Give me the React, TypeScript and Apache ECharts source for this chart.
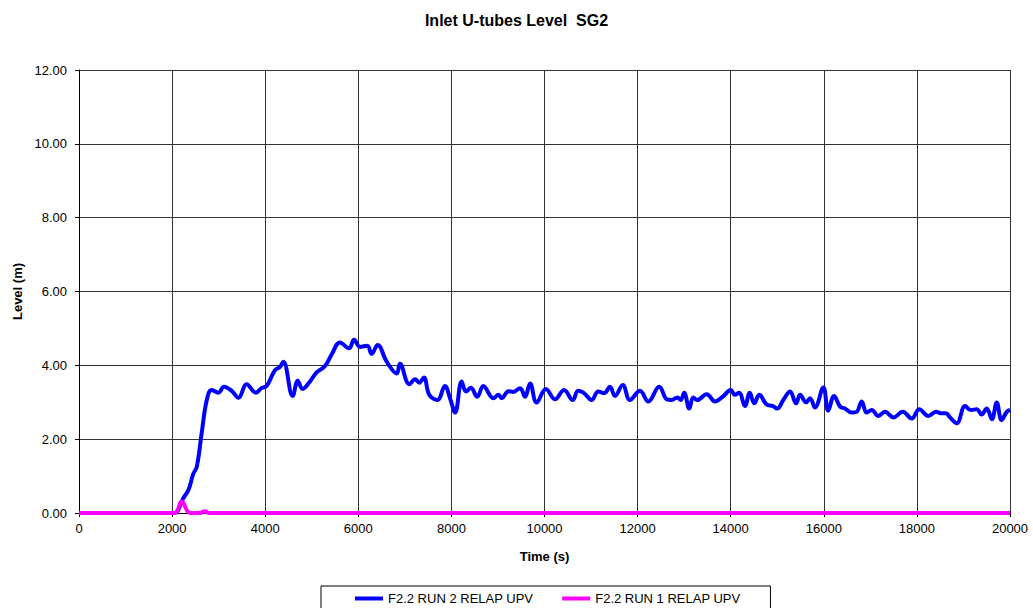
import React, { useEffect, useRef } from "react";
import * as echarts from "echarts";

const titleText = "Inlet U-tubes Level  SG2";
const xAxisName = "Time (s)";
const yAxisName = "Level (m)";
const seriesNames = ["F2.2 RUN 2 RELAP UPV", "F2.2 RUN 1 RELAP UPV"];

const run2Time = [
  0, 2000, 2060, 2240, 2350, 2455, 2530, 2635, 2745, 2850, 2995, 3115, 3280, 3425, 3600, 3800,
  3925, 4030, 4210, 4320, 4390, 4590, 4700, 4800, 4960, 5105, 5285, 5430, 5605, 5800, 5910,
  6035, 6195, 6285, 6415, 6610, 6825, 6895, 7095, 7220, 7310, 7410, 7525, 7700, 7860, 7970,
  8080, 8220, 8315, 8415, 8555, 8685, 8900, 9010, 9080, 9225, 9330, 9475, 9580, 9690, 9830,
  10030, 10225, 10420, 10605, 10725, 10850, 11010, 11155, 11285, 11405, 11515, 11680, 11835,
  12050, 12230, 12465, 12625, 12730, 12855, 12925, 13000, 13110, 13195, 13280, 13485, 13665,
  13830, 14000, 14090, 14180, 14305, 14410, 14505, 14615, 14770, 14900, 15000, 15130, 15275,
  15405, 15490, 15620, 15705, 15810, 15990, 16095, 16220, 16350, 16455, 16600, 16705, 16815,
  16920, 17030, 17170, 17315, 17495, 17695, 17890, 18050, 18245, 18410, 18535, 18625, 18710,
  18855, 19035, 19155, 19285, 19390, 19500, 19610, 19715, 19820, 19930, 20000,
];
const run2Level = [
  0, 0, 0, 0.4, 0.62, 1.06, 1.25, 2.16, 3.06, 3.33, 3.26, 3.42, 3.31, 3.12, 3.49, 3.26,
  3.39, 3.44, 3.87, 3.96, 4.1, 3.17, 3.58, 3.36, 3.56, 3.81, 3.98, 4.3, 4.62, 4.46, 4.69,
  4.5, 4.53, 4.31, 4.55, 4.1, 3.78, 4.04, 3.49, 3.62, 3.53, 3.67, 3.2, 3.06, 3.44, 3.11,
  2.72, 3.56, 3.29, 3.39, 3.15, 3.44, 3.11, 3.2, 3.11, 3.3, 3.28, 3.38, 3.15, 3.51, 2.99,
  3.36, 3.08, 3.33, 3.06, 3.31, 3.25, 3.06, 3.29, 3.25, 3.42, 3.17, 3.47, 3.06,
  3.31, 3.02, 3.42, 3.08, 3.06, 3.13, 3.06, 3.26, 2.83, 3.13, 3.06, 3.22, 3.02,
  3.15, 3.33, 3.2, 3.26, 2.9, 3.26, 2.97, 3.2, 2.94, 2.9, 2.83, 3.06, 3.29,
  2.97, 3.2, 3.0, 3.11, 2.86, 3.4, 2.77, 3.17, 2.88, 2.83, 2.72, 2.74, 3.02,
  2.72, 2.79, 2.63, 2.74, 2.59, 2.74, 2.56, 2.81, 2.63, 2.74, 2.7, 2.7, 2.59,
  2.43, 2.9, 2.79, 2.81, 2.67, 2.83, 2.54, 2.99, 2.52, 2.74, 2.79,
];

const run1Time = [0, 2050, 2205, 2385, 2600, 2705, 2800, 20000];
const run1Level = [0, 0, 0.31, 0, 0, 0.05, 0, 0];

const xMin = 0;
const xMax = 20000;
const xInterval = 2000;
const yMin = 0;
const yMax = 12;
const yInterval = 2;

const FONT = 'Arial, "Liberation Sans", sans-serif';

export default function App() {
  const ref = useRef<HTMLDivElement>(null);
  useEffect(() => {
    if (!ref.current) return;
    const chart = echarts.init(ref.current, undefined, { renderer: "svg" });
    const run2 = run2Time.map((t, i) => [t, run2Level[i]]);
    const run1 = run1Time.map((t, i) => [t, run1Level[i]]);
    chart.setOption({
      animation: false,
      backgroundColor: "#fff",
      title: {
        text: titleText,
        left: "center",
        top: 7,
        textStyle: { fontFamily: FONT, fontSize: 16, fontWeight: "bold", color: "#000" },
      },
      grid: { left: 79, right: 23, top: 70, bottom: 95, containLabel: false },
      legend: {
        data: seriesNames.map((n) => ({ name: n, icon: "rect" })),
        left: 321,
        top: 586,
        itemWidth: 28,
        itemHeight: 4,
        itemGap: 29,
        padding: [6, 30, 12, 34],
        borderColor: "#000",
        borderWidth: 1,
        textStyle: { fontFamily: FONT, fontSize: 13, color: "#000" },
      },
      xAxis: {
        type: "value",
        min: xMin,
        max: xMax,
        interval: xInterval,
        name: xAxisName,
        nameLocation: "middle",
        nameGap: 37,
        nameTextStyle: { fontFamily: FONT, fontSize: 13, fontWeight: "bold", color: "#000" },
        axisLine: { show: true, lineStyle: { color: "#000", width: 1 } },
        axisTick: { show: true, inside: false, length: 4, lineStyle: { color: "#000" } },
        axisLabel: {
          margin: 9,
          fontFamily: FONT,
          fontSize: 13,
          color: "#000",
          formatter: (v: number) => String(v),
        },
        splitLine: { show: true, lineStyle: { color: "#333", width: 1 } },
      },
      yAxis: {
        type: "value",
        min: yMin,
        max: yMax,
        interval: yInterval,
        name: yAxisName,
        nameLocation: "middle",
        nameGap: 55,
        nameRotate: 90,
        nameTextStyle: { fontFamily: FONT, fontSize: 13, fontWeight: "bold", color: "#000" },
        axisLine: { show: true, lineStyle: { color: "#000", width: 1 } },
        axisTick: { show: true, inside: false, length: 4, lineStyle: { color: "#000" } },
        axisLabel: {
          margin: 12,
          fontFamily: FONT,
          fontSize: 13,
          color: "#000",
          formatter: (v: number) => v.toFixed(2),
        },
        splitLine: { show: true, lineStyle: { color: "#333", width: 1 } },
      },
      series: [
        {
          name: seriesNames[0],
          type: "line",
          data: run2,
          smooth: 0.4,
          showSymbol: false,
          lineStyle: { color: "#0000FF", width: 4 },
          itemStyle: { color: "#0000FF" },
        },
        {
          name: seriesNames[1],
          type: "line",
          data: run1,
          smooth: 0.4,
          showSymbol: false,
          lineStyle: { color: "#FF00FF", width: 4 },
          itemStyle: { color: "#FF00FF" },
        },
      ],
    });
    return () => chart.dispose();
  }, []);
  return (
    <div
      ref={ref}
      style={{ position: "fixed", left: 0, top: 0, width: 1033, height: 608 }}
    />
  );
}
